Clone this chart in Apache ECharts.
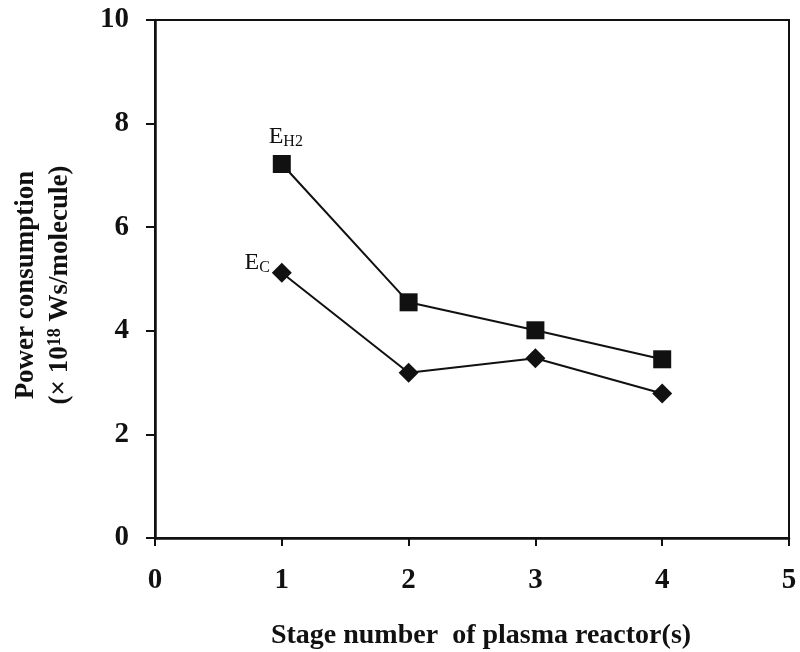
<!DOCTYPE html>
<html>
<head>
<meta charset="utf-8">
<script src="https://cdn.jsdelivr.net/npm/echarts@6/dist/echarts.min.js"></script>
<style>
  html, body { margin: 0; padding: 0; background: #fff; }
  #main { width: 800px; height: 652px; }
</style>
</head>
<body>
<div id="main"></div>
<script>
// stage number of plasma reactors
const stages = [1, 2, 3, 4];
// power consumption (x 10^18 Ws/molecule)
const eH2 = [7.22, 4.55, 4.01, 3.45];
const eC = [5.12, 3.19, 3.47, 2.79];

const serif = "'Liberation Serif', 'Times New Roman', serif";

const chart = echarts.init(document.getElementById("main"));

function pts(ys, firstLabel) {
  return stages.map((x, i) => {
    const item = { value: [x, ys[i]] };
    if (i === 0) item.label = firstLabel;
    return item;
  });
}

const subRich = {
  e: { fontFamily: serif, fontSize: 24, color: "#111" },
  s: { fontFamily: serif, fontSize: 16, color: "#111", padding: [10, 0, 0, 0] },
};

chart.setOption({
  backgroundColor: "#fff",
  animation: false,
  grid: {
    left: 155,
    right: 11,
    top: 20,
    bottom: 114,
    containLabel: false,
    outerBoundsMode: "none",
    show: true,
    borderColor: "#111",
    borderWidth: 2,
  },
  xAxis: {
    type: "value",
    min: 0,
    max: 5,
    interval: 1,
    splitLine: { show: false },
    axisLine: { lineStyle: { color: "#111", width: 2.5 } },
    axisTick: { inside: false, length: 8, lineStyle: { color: "#111", width: 2 } },
    axisLabel: {
      margin: 28,
      fontFamily: serif,
      fontWeight: "bold",
      fontSize: 29,
      color: "#111",
    },
    name: "Stage number  of plasma reactor(s)",
    nameLocation: "middle",
    nameGap: 84,
    nameTextStyle: {
      fontFamily: serif,
      fontWeight: "bold",
      fontSize: 28,
      color: "#111",
      padding: [0, 0, 0, 18],
    },
  },
  yAxis: {
    type: "value",
    min: 0,
    max: 10,
    interval: 2,
    splitLine: { show: false },
    axisLine: { lineStyle: { color: "#111", width: 2.5 } },
    axisTick: { inside: false, length: 9, lineStyle: { color: "#111", width: 2 } },
    axisLabel: {
      margin: 26,
      fontFamily: serif,
      fontWeight: "bold",
      fontSize: 29,
      color: "#111",
    },
    name: "{t|Power consumption}\n{t|(× 10}{sup|18}{t| Ws/molecule)}",
    nameLocation: "middle",
    nameRotate: 90,
    nameGap: 78,
    nameTextStyle: {
      padding: [0, 12, 0, 0],
      rich: {
        t: { fontFamily: serif, fontWeight: "bold", fontSize: 27, color: "#111", lineHeight: 34 },
        sup: { fontFamily: serif, fontWeight: "bold", fontSize: 18, color: "#111", lineHeight: 34, padding: [0, 0, 10, 0] },
      },
    },
  },
  series: [
    {
      name: "E_H2",
      type: "line",
      symbol: "rect",
      symbolSize: 18,
      itemStyle: { color: "#111" },
      lineStyle: { color: "#111", width: 2 },
      data: pts(eH2, {
        show: true,
        position: "top",
        distance: 5,
        offset: [4, 0],
        formatter: "{e|E}{s|H2}",
        rich: subRich,
      }),
    },
    {
      name: "E_C",
      type: "line",
      symbol: "diamond",
      symbolSize: 20,
      itemStyle: { color: "#111" },
      lineStyle: { color: "#111", width: 2 },
      data: pts(eC, {
        show: true,
        position: "left",
        distance: 2,
        offset: [0, -10],
        formatter: "{e|E}{s|C}",
        rich: subRich,
      }),
    },
  ],
});
</script>
</body>
</html>
